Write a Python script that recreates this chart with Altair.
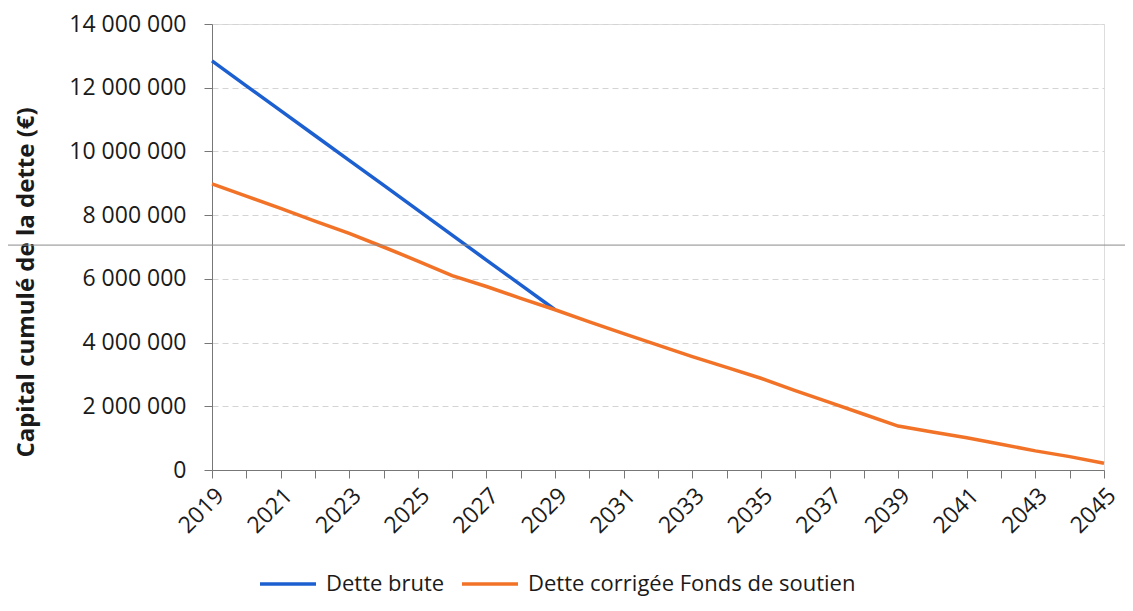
import altair as alt
import pandas as pd

# ---- data ----
years = list(range(2019, 2046))
brute_years = list(range(2019, 2030))
dette_brute = [12840000, 12060000, 11280000, 10500000, 9720000, 8940000,
               8160000, 7370000, 6590000, 5810000, 5030000]
dette_corrigee = [8980000, 8600000, 8210000, 7810000, 7430000, 7000000,
                  6560000, 6100000, 5760000, 5390000, 5030000, 4650000,
                  4280000, 3920000, 3560000, 3220000, 2880000, 2490000,
                  2120000, 1750000, 1380000, 1190000, 1010000, 810000,
                  600000, 420000, 210000]
series_names = ["Dette brute", "Dette corrigée Fonds de soutien"]
series_colors = ["#1c5fd1", "#f27327"]
y_ticks = [0, 2000000, 4000000, 6000000, 8000000, 10000000, 12000000, 14000000]
scan_line = [7060000]

rows = []
for yr, v in zip(brute_years, dette_brute):
    rows.append({"annee": yr, "valeur": v, "serie": series_names[0]})
for yr, v in zip(years, dette_corrigee):
    rows.append({"annee": yr, "valeur": v, "serie": series_names[1]})
df = pd.DataFrame(rows)

FONT = "Open Sans"

x_enc = alt.X(
    "annee:Q",
    scale=alt.Scale(domain=[years[0], years[-1]], nice=False, zero=False),
    axis=alt.Axis(
        values=years,
        labelExpr="datum.value % 2 == 1 ? toString(datum.value) : ''",
        labelAngle=-45,
        labelAlign="right",
        labelBaseline="top",
        labelFontSize=23,
        labelColor="#1a1a1a",
        labelPadding=6,
        tickSize=8,
        tickColor="#777777",
        domainColor="#777777",
        grid=False,
        title=None,
        labelOverlap=False,
    ),
)

y_enc = alt.Y(
    "valeur:Q",
    scale=alt.Scale(domain=[0, 14000000], nice=False),
    axis=alt.Axis(
        values=y_ticks,
        labelExpr="replace(format(datum.value, ','), /,/g, ' ')",
        labelFontSize=23,
        labelColor="#1a1a1a",
        labelPadding=18,
        tickSize=8,
        tickColor="#777777",
        domainColor="#777777",
        grid=True,
        gridColor="#d4d4d4",
        gridDash=[6, 4],
        title="Capital cumulé de la dette (€)",
        titleFontSize=24,
        titleFontWeight="bold",
        titleColor="#1a1a1a",
        titleAngle=-90,
        titleX=-186,
        titleY=258,
        titleAlign="center",
        titleBaseline="middle",
    ),
)

rule = alt.Chart(pd.DataFrame({"v": scan_line})).mark_rule(
    color="#8a8a8a", strokeWidth=1
).encode(y=alt.Y("v:Q"), x=alt.value(-212), x2=alt.value(913))

lines = alt.Chart(df).mark_line(strokeWidth=3.5).encode(
    x=x_enc,
    y=y_enc,
    color=alt.Color(
        "serie:N",
        scale=alt.Scale(domain=series_names, range=series_colors),
        legend=alt.Legend(
            title=None,
            orient="none",
            direction="horizontal",
            legendX=46,
            legendY=530,
            symbolType="stroke",
            symbolSize=3136,
            symbolStrokeWidth=3.5,
            labelFontSize=22,
            labelColor="#1a1a1a",
            labelOffset=8,
            labelLimit=600,
            columnPadding=10,
        ),
    ),
)

chart = alt.layer(lines, rule).properties(
    width=892,
    height=446,
    autosize=alt.AutoSizeParams(type="none"),
    padding={"left": 204, "top": 16, "right": 21, "bottom": 132},
).configure_view(stroke=None).configure(font=FONT)

chart.save("out.html", embed_options={"renderer": "svg", "actions": False})
